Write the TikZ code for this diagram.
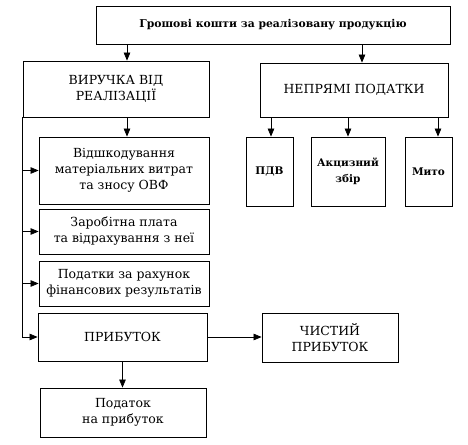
\documentclass[tikz,border=0pt]{standalone}
\usepackage{fontspec}
\setmainfont{DejaVu Serif}
\usetikzlibrary{arrows.meta}

\begin{document}
\begin{tikzpicture}[x=1pt, y=-1pt,
    box/.style={draw, line width=0.8pt, align=center, inner sep=0pt,
        font=\fontsize{12.5}{16}\selectfont},
    taxbox/.style={box, minimum height=69pt,
        font=\bfseries\fontsize{10.5}{16}\selectfont},
    arr/.style={-{Triangle[length=8pt,width=6.5pt]}, line width=0.7pt}]

\useasboundingbox (0,0) rectangle (468,444);

% Top box
\node[box, minimum width=354pt, minimum height=38pt,
    font=\bfseries\fontsize{10.8}{14}\selectfont] (total) at (273,25)
    {Грошові кошти за реалізовану продукцію};

% Revenue and indirect taxes
\node[box, minimum width=186pt, minimum height=56pt] (vyr) at (116,89)
    {ВИРУЧКА ВІД\\РЕАЛІЗАЦІЇ};
\node[box, minimum width=188pt, minimum height=54pt] (nep) at (354,90)
    {НЕПРЯМІ ПОДАТКИ};

\draw[arr] ([xshift=-146pt]total.south) -- ([xshift=11pt]vyr.north);
\draw[arr] ([xshift=89pt]total.south) -- ([xshift=8pt]nep.north);

% Indirect taxes
\node[taxbox, minimum width=47pt] (pdv) at (269.5,171.5) {ПДВ};
\node[taxbox, minimum width=74pt] (akc) at (348,171.5) {Акцизний\\збір};
\node[taxbox, minimum width=47pt] (myto) at (428.5,171.5) {Мито};

\draw[arr] ([xshift=1.5pt]pdv.north |- nep.south) -- ([xshift=1.5pt]pdv.north);
\draw[arr] (akc.north |- nep.south) -- (akc.north);
\draw[arr] ([xshift=9.5pt]myto.north |- nep.south) -- ([xshift=9.5pt]myto.north);

% Costs covered from revenue
\node[box, minimum width=170pt, minimum height=67pt] (vid) at (124,170.5)
    {Відшкодування\\матеріальних витрат\\та зносу ОВФ};
\node[box, minimum width=170pt, minimum height=45pt] (zar) at (124,231.5)
    {Заробітна плата\\та відрахування з неї};
\node[box, minimum width=170pt, minimum height=45pt] (pod) at (124,283.5)
    {Податки за рахунок\\фінансових результатів};

\draw[arr] ([xshift=11pt]vyr.south) -- ([xshift=11pt]vyr.south |- vid.north);
\draw[arr] (vyr.south west) |- (vid.west);
\draw[arr] (vyr.south west) |- (zar.west);
\draw[arr] (vyr.south west) |- (pod.west);

% Profit
\node[box, minimum width=169pt, minimum height=48pt] (prib) at (122.5,337) {ПРИБУТОК};
\node[box, minimum width=136pt, minimum height=49pt] (chyst) at (330,337.5)
    {ЧИСТИЙ\\ПРИБУТОК};
\node[box, minimum width=166pt, minimum height=49pt] (podpr) at (123,412.5)
    {Податок\\на прибуток};

\draw[arr] (vyr.south west) |- (prib.west);
\draw[arr] (prib.east) -- (prib.east -| chyst.west);
\draw[arr] (prib.south) -- (prib.south |- podpr.north);

\end{tikzpicture}
\end{document}
